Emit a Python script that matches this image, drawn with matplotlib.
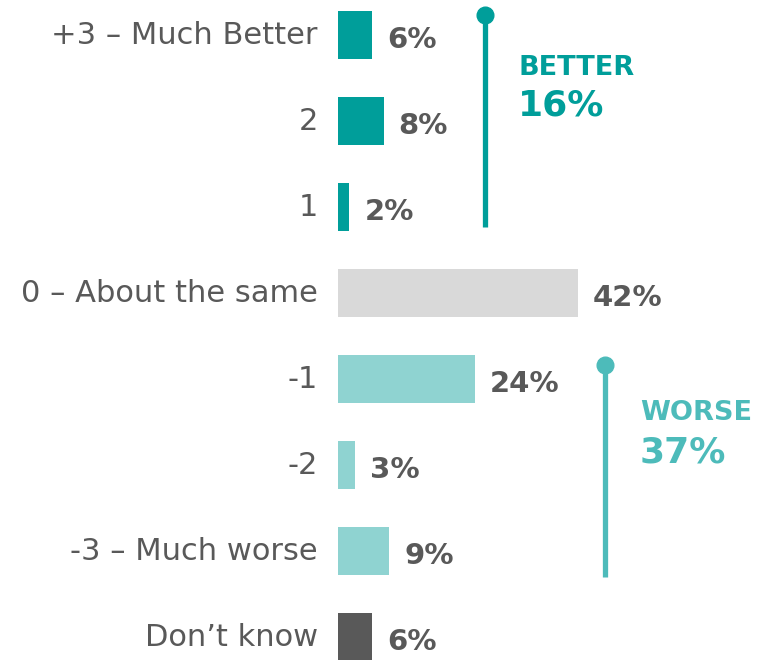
import matplotlib.pyplot as plt

# Survey data
labels = ['+3 – Much Better', '2', '1', '0 – About the same',
          '-1', '-2', '-3 – Much worse', 'Don’t know']
values = [6, 8, 2, 42, 24, 3, 9, 6]
bar_colors = ['#009E9A', '#009E9A', '#009E9A', '#D9D9D9',
              '#8FD3D1', '#8FD3D1', '#8FD3D1', '#595959']

better_total = 16
worse_total = 37

text_grey = '#595959'
better_color = '#009E9A'
worse_color = '#4DBBBA'


def main():
    plt.rcParams['font.family'] = ['DejaVu Sans']
    fig = plt.figure(figsize=(7.68, 6.6), dpi=100)
    ax = fig.add_axes([338 / 768, 0, 430 / 768, 1])

    ypos = list(range(len(labels)))
    ax.barh(ypos, values, height=0.56, color=bar_colors)

    # value labels
    for y, v in zip(ypos, values):
        ax.text(v + 2.6, y + 0.06, f'{v}%', va='center', ha='left',
                fontsize=21, fontweight='bold', color=text_grey)

    # category labels on the left
    for y, lab in zip(ypos, labels):
        ax.text(-3.5, y, lab, va='center', ha='right', fontsize=22,
                color=text_grey, clip_on=False)

    # BETTER bracket
    ax.plot([25.7, 25.7], [-0.23, 2.23], color=better_color, lw=3.8,
            solid_capstyle='butt')
    ax.plot(25.7, -0.23, 'o', color=better_color, ms=12)
    ax.text(31.5, 0.38, 'BETTER', color=better_color, fontsize=19.5,
            fontweight='bold', va='center', ha='left')
    ax.text(31.5, 0.82, f'{better_total}%', color=better_color, fontsize=26,
            fontweight='bold', va='center', ha='left')

    # WORSE bracket
    ax.plot([46.7, 46.7], [3.84, 6.3], color=worse_color, lw=3.8,
            solid_capstyle='butt')
    ax.plot(46.7, 3.84, 'o', color=worse_color, ms=12)
    ax.text(52.8, 4.4, 'WORSE', color=worse_color, fontsize=19.5,
            fontweight='bold', va='center', ha='left')
    ax.text(52.8, 4.86, f'{worse_total}%', color=worse_color, fontsize=26,
            fontweight='bold', va='center', ha='left')

    ax.set_xlim(0, 430 / 5.72)
    ax.set_ylim((660 - 35) / 86, -35 / 86)
    ax.axis('off')

    fig.savefig('out.png', dpi=100)


if __name__ == '__main__':
    main()
